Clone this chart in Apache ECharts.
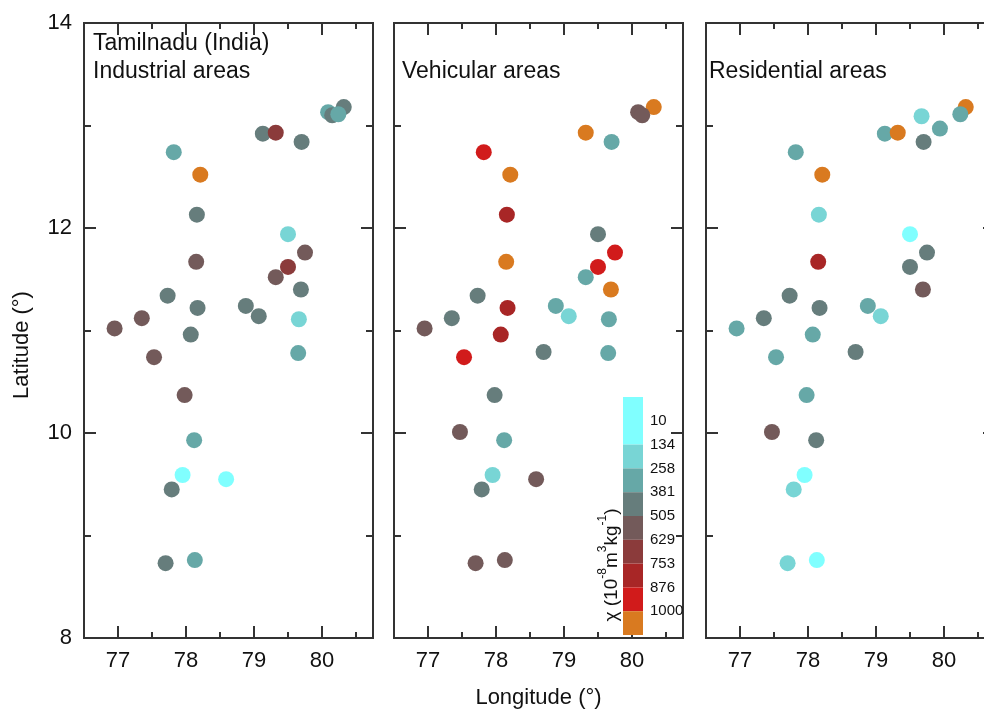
<!DOCTYPE html>
<html>
<head>
<meta charset="utf-8">
<title>Magnetic susceptibility, Tamilnadu</title>
<script src="https://cdn.jsdelivr.net/npm/echarts@6/dist/echarts.min.js"></script>
<style>
  html, body { margin: 0; padding: 0; background: #fff; }
  #chart { width: 984px; height: 714px; }
</style>
</head>
<body>
<div id="chart"></div>
<script>
// Sampling sites: longitude / latitude in degrees
const siteLon = [77.82, 78.21, 78.16, 79.13, 79.32, 79.70, 80.09, 80.32, 80.15, 80.24,
                 79.50, 79.75, 78.15, 79.50, 79.32, 79.69, 77.73, 78.17, 78.88, 79.07,
                 79.66, 77.35, 76.95, 78.07, 79.65, 77.53, 77.98, 78.12, 77.95, 78.59,
                 77.79, 77.70, 78.13, 77.47, 79.67, 79.94, 78.70];
const siteLat = [12.74, 12.52, 12.13, 12.92, 12.93, 12.84, 13.13, 13.18, 13.10, 13.11,
                 11.94, 11.76, 11.67, 11.62, 11.52, 11.40, 11.34, 11.22, 11.24, 11.14,
                 11.11, 11.12, 11.02, 10.96, 10.78, 10.74, 10.37, 9.93, 9.59, 9.55,
                 9.45, 8.73, 8.76, 10.01, 13.09, 12.97, 10.79];

// Magnetic susceptibility χ (10^-8 m^3 kg^-1) per site; null = no sample
const chiIndustrial = [330, 1060, 450, 420, 700, 470, 300, 430, 460, 290,
                       210, 560, 590, 680, 540, 410, 440, 480, 400, 455,
                       190, 575, 550, 435, 310, 565, 530, 345, 90, 70,
                       415, 445, 325, null, null, null, null];
const chiVehicular = [940, 1120, 820, null, 1080, 335, 580, 1150, 545, null,
                      425, 960, 1040, 910, 300, 1070, 470, 790, 315, 230,
                      290, 440, 600, 840, 350, 925, 405, 320, 200, 555,
                      460, 570, 535, 590, null, null, 420];
const chiResidential = [310, 1050, 220, 340, 1090, 430, null, 1030, null, 295,
                        110, 450, 800, 415, null, 560, 465, 440, 330, 185,
                        null, 410, 305, 320, null, 285, 355, 425, 60, null,
                        240, 170, 80, 545, 205, 300, 435];

const panelTitles = ['Tamilnadu (India)\nIndustrial areas', 'Vehicular areas', 'Residential areas'];
const lonTicks = [77, 78, 79, 80];
const lonMinorTicks = [77.5, 78.5, 79.5, 80.5];
const chiTickLabels = ['10', '134', '258', '381', '505', '629', '753', '876', '1000'];
const chiBreaks = [134, 258, 381, 505, 629, 753, 876, 1000];
const chiColors = ['#80ffff', '#78d5d5', '#66a8a7', '#667d7c', '#735a5a',
                   '#8b3b3b', '#a82626', '#d11b1b', '#d97a20'];

const FONT = '"Liberation Sans", Arial, Helvetica, sans-serif';
const INK = '#111';
const FRAME = { color: '#333', width: 2 };

const chart = echarts.init(document.getElementById('chart'), null, { renderer: 'canvas' });

const panelChi = [chiIndustrial, chiVehicular, chiResidential];
const gridLefts = [84, 394, 706];

const grids = [];
const xAxes = [];
const yAxes = [];
const series = [];

panelChi.forEach((chi, g) => {
  grids.push({ left: gridLefts[g], top: 23, width: 289, height: 615, outerBoundsMode: 'none', containLabel: false });

  const xBase = {
    gridIndex: g, type: 'value', min: 76.5, max: 80.75,
    splitLine: { show: false },
    axisLine: { show: true, onZero: false, lineStyle: FRAME }
  };
  // bottom: major ticks + labels
  xAxes.push(Object.assign({}, xBase, {
    position: 'bottom',
    axisTick: { show: true, inside: true, length: 12, customValues: lonTicks, lineStyle: FRAME },
    axisLabel: { show: true, customValues: lonTicks, fontSize: 22, fontFamily: FONT, color: INK, margin: 12 },
    name: g === 1 ? 'Longitude (°)' : '',
    nameLocation: 'middle', nameGap: 49,
    nameTextStyle: { fontSize: 22, fontFamily: FONT, color: INK }
  }));
  // bottom: half-degree ticks
  xAxes.push(Object.assign({}, xBase, {
    position: 'bottom',
    axisTick: { show: true, inside: true, length: 6, customValues: lonMinorTicks, lineStyle: FRAME },
    axisLabel: { show: false }
  }));
  // top: mirrored ticks
  xAxes.push(Object.assign({}, xBase, {
    position: 'top',
    axisTick: { show: true, inside: true, length: 12, customValues: lonTicks, lineStyle: FRAME },
    axisLabel: { show: false }
  }));
  xAxes.push(Object.assign({}, xBase, {
    position: 'top',
    axisTick: { show: true, inside: true, length: 6, customValues: lonMinorTicks, lineStyle: FRAME },
    axisLabel: { show: false }
  }));

  const yBase = {
    gridIndex: g, type: 'value', min: 8, max: 14, interval: 2,
    splitLine: { show: false }, minorSplitLine: { show: false },
    axisLine: { show: true, onZero: false, lineStyle: FRAME },
    axisTick: { show: true, inside: true, length: 12, lineStyle: FRAME },
    minorTick: { show: true, splitNumber: 2, length: 7, lineStyle: FRAME }
  };
  yAxes.push(Object.assign({}, yBase, {
    position: 'left',
    axisLabel: { show: g === 0, fontSize: 22, fontFamily: FONT, color: INK, margin: 12 }
  }));
  yAxes.push(Object.assign({}, yBase, {
    position: 'right',
    axisLabel: { show: false }
  }));

  const data = [];
  siteLon.forEach((lon, i) => {
    if (chi[i] != null) data.push([lon, siteLat[i], chi[i]]);
  });
  series.push({
    type: 'scatter',
    xAxisIndex: g * 4,
    yAxisIndex: g * 2,
    symbol: 'circle',
    symbolSize: 16,
    data: data,
    itemStyle: { opacity: 1 },
    emphasis: { disabled: true },
    silent: true,
    z: 3
  });
});

// Colour scale pieces shared by all three panels
const pieces = chiColors.map((color, b) => {
  const p = { color: color };
  if (b > 0) p.gte = chiBreaks[b - 1];
  if (b < chiBreaks.length) p.lt = chiBreaks[b];
  return p;
});

// Colour bar: a small grid whose axis runs over the tick-label positions
grids.push({ left: 623, top: 397, width: 20, height: 238, outerBoundsMode: 'none', containLabel: false });
xAxes.push({ gridIndex: 3, type: 'value', min: 0, max: 1, show: false });
yAxes.push({
  gridIndex: 3, type: 'value', min: -1, max: 9, interval: 1, inverse: true, position: 'right',
  axisLine: { show: false }, axisTick: { show: false }, splitLine: { show: false },
  axisLabel: {
    show: true, margin: 7, fontSize: 15, fontFamily: FONT, color: INK,
    formatter: (v) => (chiTickLabels[v] !== undefined ? chiTickLabels[v] : '')
  }
});
// band b spans label positions [b, b+1]; the lowest band also covers the slot above "10"
const colorBands = chiColors.map((c, b) => [b === 0 ? -1 : b, b + 1, b]);
series.push({
  type: 'custom',
  xAxisIndex: 12,
  yAxisIndex: 6,
  silent: true,
  data: colorBands,
  encode: { y: [0, 1] },
  renderItem: (params, api) => {
    const p0 = api.coord([0, api.value(0)]);
    const p1 = api.coord([1, api.value(1)]);
    return {
      type: 'rect',
      shape: { x: p0[0], y: Math.min(p0[1], p1[1]), width: p1[0] - p0[0], height: Math.abs(p1[1] - p0[1]) },
      style: { fill: chiColors[api.value(2)] }
    };
  },
  z: 4
});

const titleStyle = { fontSize: 23, fontWeight: 'normal', color: INK, fontFamily: FONT, lineHeight: 27.5 };

const option = {
  backgroundColor: '#fff',
  animation: false,
  textStyle: { fontFamily: FONT },
  title: [
    { text: panelTitles[0], left: 93, top: 30, padding: 0, textStyle: titleStyle },
    { text: panelTitles[1], left: 402, top: 57.5, padding: 0, textStyle: titleStyle },
    { text: panelTitles[2], left: 709, top: 57.5, padding: 0, textStyle: titleStyle }
  ],
  visualMap: {
    type: 'piecewise',
    show: false,
    dimension: 2,
    seriesIndex: [0, 1, 2],
    pieces: pieces
  },
  grid: grids,
  xAxis: xAxes,
  yAxis: yAxes,
  series: series,
  graphic: [
    {
      type: 'text', x: 21.5, y: 345, rotation: Math.PI / 2, silent: true,
      style: { text: 'Latitude (°)', fontSize: 22, fontFamily: FONT, fill: INK,
               align: 'center', verticalAlign: 'middle' }
    },
    {
      type: 'text', x: 609, y: 565, rotation: Math.PI / 2, silent: true, z: 10,
      style: {
        text: '{a|χ (10}{s|-8}{a|m}{s|3}{a|kg}{s|-1}{a|)}',
        align: 'center', verticalAlign: 'middle', fill: INK,
        rich: {
          a: { fontSize: 19, fontFamily: FONT, color: INK, lineHeight: 24, verticalAlign: 'bottom' },
          s: { fontSize: 12, fontFamily: FONT, color: INK, verticalAlign: 'top' }
        }
      }
    }
  ]
};

chart.setOption(option);
</script>
</body>
</html>
